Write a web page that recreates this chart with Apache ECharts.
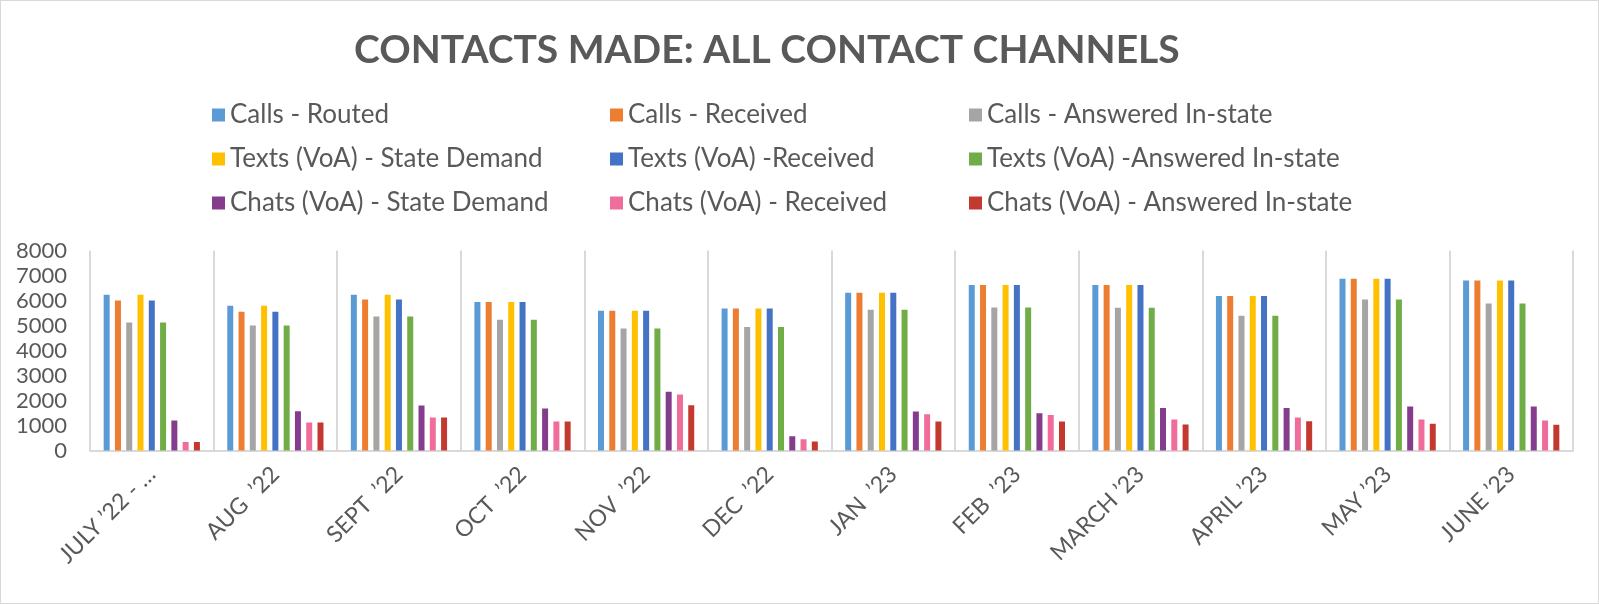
<!DOCTYPE html>
<html><head><meta charset="utf-8">
<script src="https://cdn.jsdelivr.net/npm/echarts@6/dist/echarts.min.js"></script>
<style>
html,body{margin:0;padding:0;background:#fff;}
#c{width:1599px;height:604px;box-sizing:border-box;border:1px solid #d9d9d9;}
</style></head>
<body><div id="c"></div>
<script>
const categories = ["JULY \u201922 - \u2026","AUG  \u201922","SEPT  \u201922","OCT  \u201922","NOV  \u201922","DEC  \u201922","JAN  \u201923","FEB  \u201923","MARCH \u201923","APRIL \u201923","MAY \u201923","JUNE \u201923"];
const callsRouted     = [6230,5790,6230,5940,5590,5680,6310,6620,6620,6180,6870,6800];
const callsReceived   = [6000,5550,6040,5940,5590,5680,6310,6620,6620,6180,6870,6800];
const callsAnswered   = [5120,5000,5360,5230,4880,4940,5630,5720,5710,5390,6040,5880];
const textsDemand     = [6230,5790,6230,5940,5590,5680,6310,6620,6620,6180,6870,6800];
const textsReceived   = [6000,5550,6040,5940,5590,5680,6310,6620,6620,6180,6870,6800];
const textsAnswered   = [5120,5000,5360,5230,4880,4940,5630,5720,5710,5390,6040,5880];
const chatsDemand     = [1200,1570,1800,1680,2350,570,1560,1490,1700,1700,1760,1760];
const chatsReceived   = [340,1120,1320,1160,2240,450,1450,1420,1240,1320,1240,1200];
const chatsAnswered   = [340,1120,1320,1160,1810,360,1160,1160,1040,1170,1070,1030];
const yTicks = [0,1000,2000,3000,4000,5000,6000,7000,8000];

const seriesNames = ["Calls - Routed","Calls - Received","Calls - Answered In-state","Texts (VoA) - State Demand","Texts (VoA) -Received","Texts (VoA) -Answered In-state","Chats (VoA) - State Demand","Chats (VoA) - Received","Chats (VoA) - Answered In-state"];
const seriesData = [callsRouted,callsReceived,callsAnswered,textsDemand,textsReceived,textsAnswered,chatsDemand,chatsReceived,chatsAnswered];
const colors = ["#5B9BD5","#ED7D31","#A5A5A5","#FFC000","#4472C4","#70AD47","#843C8C","#F06D9B","#C4392F"];

const FONT = "Lato";
const TXT = "#595959";
const chart = echarts.init(document.getElementById('c'));
const legendBase = {orient:'vertical', top:101, padding:0, itemWidth:13, itemHeight:13, itemGap:18, icon:'rect',
  textStyle:{fontFamily:FONT, fontSize:26, lineHeight:26, color:TXT}};
chart.setOption({
  color: colors,
  animation:false,
  title:{text:"CONTACTS MADE: ALL CONTACT CHANNELS", left:348, top:25,
    textStyle:{fontFamily:FONT, fontWeight:'bold', fontSize:39, color:TXT}},
  legend:[
    Object.assign({}, legendBase, {left:211, data:seriesNames.filter((n,i)=>i%3===0)}),
    Object.assign({}, legendBase, {left:609, data:seriesNames.filter((n,i)=>i%3===1)}),
    Object.assign({}, legendBase, {left:968, data:seriesNames.filter((n,i)=>i%3===2)})
  ],
  grid:{left:89, right:25, top:249.5, bottom:152.5, containLabel:false},
  xAxis:{type:'category', data:categories,
    axisLine:{lineStyle:{color:'#d9d9d9', width:2}},
    axisTick:{show:false},
    splitLine:{show:true, interval:0, lineStyle:{color:'#d9d9d9', width:2}},
    axisLabel:{interval:0, rotate:45, margin:20, fontFamily:FONT, fontSize:23, color:TXT}},
  yAxis:{type:'value', min:0, max:8000, interval:1000,
    axisLine:{show:false}, axisTick:{show:false}, splitLine:{show:false},
    axisLabel:{margin:23, fontFamily:FONT, fontSize:22, color:TXT,
      formatter:v=> yTicks.includes(v) ? String(v) : ''}},
  series: seriesNames.map((n,i)=>({name:n, type:'bar', data:seriesData[i], barWidth:6, barGap:'88%',
    itemStyle:{color:colors[i]}}))
});
</script></body></html>
